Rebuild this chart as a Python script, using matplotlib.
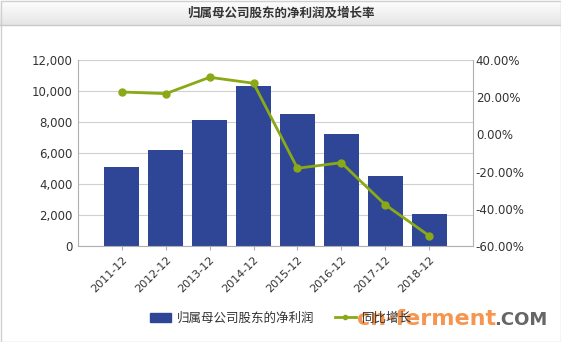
import numpy as np
import matplotlib
matplotlib.use("Agg")
import matplotlib.pyplot as plt
from matplotlib.patches import Rectangle
from matplotlib.lines import Line2D
from matplotlib.ticker import FuncFormatter

plt.rcParams['font.family'] = ['DejaVu Sans', 'Noto Sans CJK SC']

years = ['2011-12', '2012-12', '2013-12', '2014-12', '2015-12', '2016-12', '2017-12', '2018-12']
profit = [5100, 6200, 8130, 10340, 8520, 7230, 4500, 2070]
growth = [22.8, 21.9, 30.7, 27.5, -18.2, -15.2, -37.8, -54.5]

bar_color = '#2f4696'
line_color = '#8aa916'
text_color = '#333333'
grid_color = '#d0d0d0'
cjk = ['Noto Sans CJK SC', 'DejaVu Sans']

fig = plt.figure(figsize=(5.61, 3.42), dpi=100)

# title bar with soft gradient
bg = fig.add_axes([0, 1 - 25/342, 1, 25/342])
grad = np.linspace(1.0, 0.9, 50).reshape(-1, 1)
bg.imshow(np.dstack([grad, grad, grad]), aspect='auto', extent=[0, 1, 0, 1])
bg.set_axis_off()
fig.text(0.5, 1 - 13/342, '归属母公司股东的净利润及增长率', ha='center', va='center',
         fontsize=9, fontweight='bold', color=text_color, family=cjk)
fig.add_artist(Line2D([0, 1], [1 - 25/342] * 2, color='#c8c8c8', lw=1))
fig.add_artist(Rectangle((0.5/561, 0.5/342), 1 - 1/561, 1 - 1/342, fill=False,
                         edgecolor='#d0d0d0', lw=1))

ax = fig.add_axes([78/561, 1 - 246/342, (473 - 78)/561, (246 - 60)/342])
x = np.arange(len(years))
ax.bar(x, profit, width=0.8, color=bar_color, zorder=2)
ax.set_xlim(-1, len(years))
ax.set_ylim(0, 12000)
ax.set_yticks(np.arange(0, 12001, 2000))
ax.yaxis.set_major_formatter(FuncFormatter(lambda v, p: f'{int(v):,}'))
ax.grid(axis='y', color=grid_color, lw=0.8, zorder=0)
ax.set_xticks(x)
ax.set_xticklabels(years, rotation=45, ha='right', rotation_mode='anchor')
for s in ['top', 'right']:
    ax.spines[s].set_visible(False)
for s in ['left', 'bottom']:
    ax.spines[s].set_color('#b0b0b0')
ax.tick_params(axis='both', colors='#b0b0b0', labelcolor=text_color, labelsize=8, length=3)
ax.tick_params(axis='y', length=0, pad=4, labelsize=8.5)

ax2 = ax.twinx()
ax2.plot(x, growth, color=line_color, lw=2, marker='o', markersize=5, zorder=3)
ax2.set_ylim(-60, 40)
ax2.set_yticks(np.arange(-60, 41, 20))
ax2.yaxis.set_major_formatter(FuncFormatter(lambda v, p: f'{v:.2f}%'))
for s in ['top', 'left', 'bottom']:
    ax2.spines[s].set_visible(False)
ax2.spines['right'].set_color('#b0b0b0')
ax2.tick_params(axis='y', colors='#b0b0b0', labelcolor=text_color, labelsize=8.5, length=0, pad=2)

handles = [Rectangle((0, 0), 1, 1, color=bar_color),
           Line2D([0], [0], color=line_color, lw=2, marker='o', markersize=3)]
fig.legend(handles, ['归属母公司股东的净利润', '同比增长'], loc='center',
           bbox_to_anchor=(281/561, 1 - 318/342), ncol=2, frameon=False,
           prop={'family': cjk, 'size': 9}, handlelength=1.7, handletextpad=0.5,
           columnspacing=1.6, labelcolor=text_color)

# watermark
fig.text(357/561, 1 - 319/342, 'cn-ferment', ha='left', va='center', fontsize=16,
         fontweight='bold', color='#f58a3c', alpha=0.9)
fig.text(494/561, 1 - 320/342, '.COM', ha='left', va='center', fontsize=13,
         fontweight='bold', color='#666666')

fig.savefig('out.png', dpi=100)
